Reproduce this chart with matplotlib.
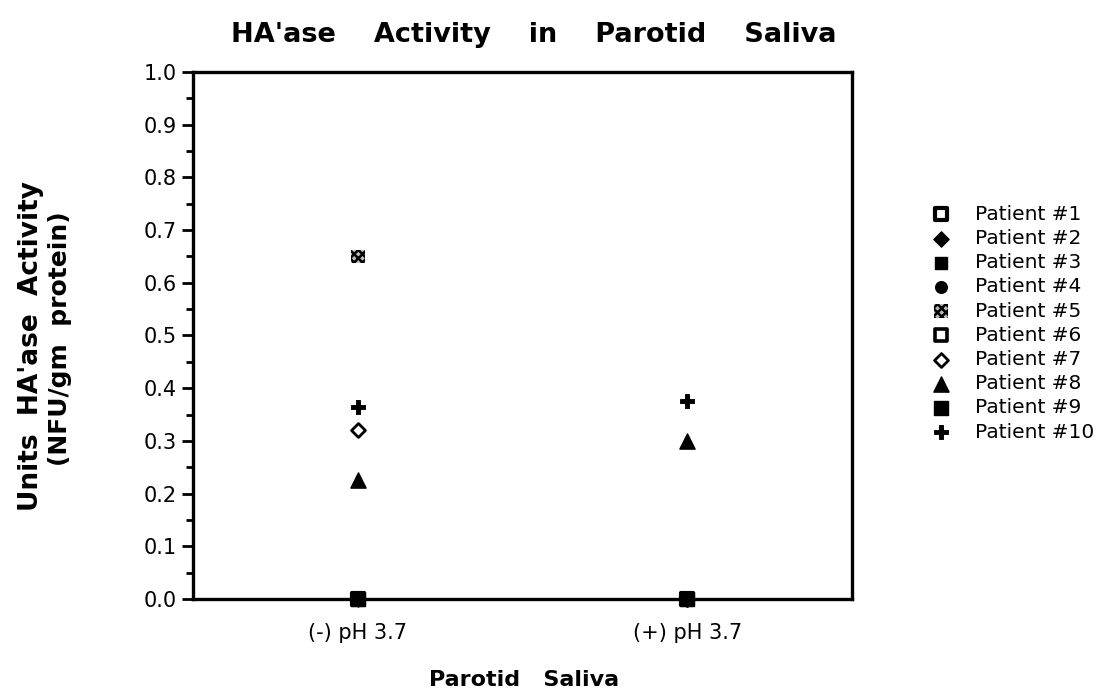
import matplotlib
matplotlib.use('Agg')
import matplotlib.pyplot as plt
from matplotlib.ticker import MultipleLocator, FormatStrFormatter

plt.rcParams['font.family'] = ['DejaVu Sans']
plt.rcParams['hatch.linewidth'] = 1.8

# 数据：两种处理条件下每位患者的活性
conditions = ['(-) pH 3.7', '(+) pH 3.7']
patients = ['Patient #1', 'Patient #2', 'Patient #3', 'Patient #4', 'Patient #5',
            'Patient #6', 'Patient #7', 'Patient #8', 'Patient #9', 'Patient #10']
minus_ph = [0.0, 0.0, 0.0, 0.0, 0.65, 0.0, 0.32, 0.225, 0.0, 0.365]
plus_ph = [0.0, 0.0, 0.0, 0.0, 0.0, 0.0, 0.0, 0.30, 0.0, 0.375]

# 每位患者的标记样式
styles = [
    dict(marker='s', s=70, facecolor='white', edgecolor='black', linewidths=3.0),
    dict(marker='D', s=60, facecolor='black', edgecolor='black', linewidths=1.0),
    dict(marker='s', s=85, facecolor='black', edgecolor='black', linewidths=1.0),
    dict(marker='o', s=70, facecolor='black', edgecolor='black', linewidths=1.0),
    dict(marker='s', s=95, facecolor='#bbbbbb', edgecolor='black', linewidths=0.0, hatch='xxxx'),
    dict(marker='s', s=75, facecolor='white', edgecolor='black', linewidths=2.6),
    dict(marker='D', s=50, facecolor='white', edgecolor='black', linewidths=2.0),
    dict(marker='^', s=120, facecolor='black', edgecolor='black', linewidths=1.0),
    dict(marker='s', s=100, facecolor='black', edgecolor='black', linewidths=1.0),
    dict(marker='P', s=140, facecolor='black', edgecolor='white', linewidths=0.8),
]

fig = plt.figure(figsize=(11, 6.92), dpi=100)
ax = fig.add_axes([0.1755, 0.1344, 0.599, 0.7616])

handles = []
for i, name in enumerate(patients):
    h = ax.scatter([0, 1], [minus_ph[i], plus_ph[i]], label=name, zorder=3,
                   clip_on=False, **styles[i])
    handles.append(h)

ax.set_xlim(-0.5, 1.5)
ax.set_ylim(0, 1.0)
ax.set_xticks([0, 1])
ax.set_xticklabels(conditions)
ax.yaxis.set_major_locator(MultipleLocator(0.1))
ax.yaxis.set_minor_locator(MultipleLocator(0.05))
ax.yaxis.set_major_formatter(FormatStrFormatter('%.1f'))
ax.tick_params(axis='y', which='major', direction='out', length=8, width=2,
               labelsize=15, pad=3.5)
ax.tick_params(axis='y', which='minor', direction='out', length=5, width=2)
ax.tick_params(axis='x', which='major', direction='out', length=5, width=2,
               labelsize=15, pad=12)
for sp in ax.spines.values():
    sp.set_linewidth(2.4)

fig.text(0.485, 0.939, "HA'ase    Activity    in    Parotid    Saliva", ha='center',
         va='baseline', fontsize=19.5, fontweight='bold')
fig.text(0.476, 0.008, 'Parotid   Saliva', ha='center', va='baseline',
         fontsize=16, fontweight='bold')
fig.text(0.028, 0.50, "Units  HA'ase  Activity", rotation=90, ha='center',
         va='center', fontsize=19, fontweight='bold')
fig.text(0.055, 0.51, '(NFU/gm  protein)', rotation=90, ha='center',
         va='center', fontsize=18, fontweight='bold')

ax.legend(handles=handles, loc='center left', bbox_to_anchor=(0.83, 0.533),
          bbox_transform=fig.transFigure, frameon=False, fontsize=14.5,
          labelspacing=0.26, handlelength=1.0, handletextpad=1.2,
          scatterpoints=1)

fig.savefig('out.png', dpi=100)
